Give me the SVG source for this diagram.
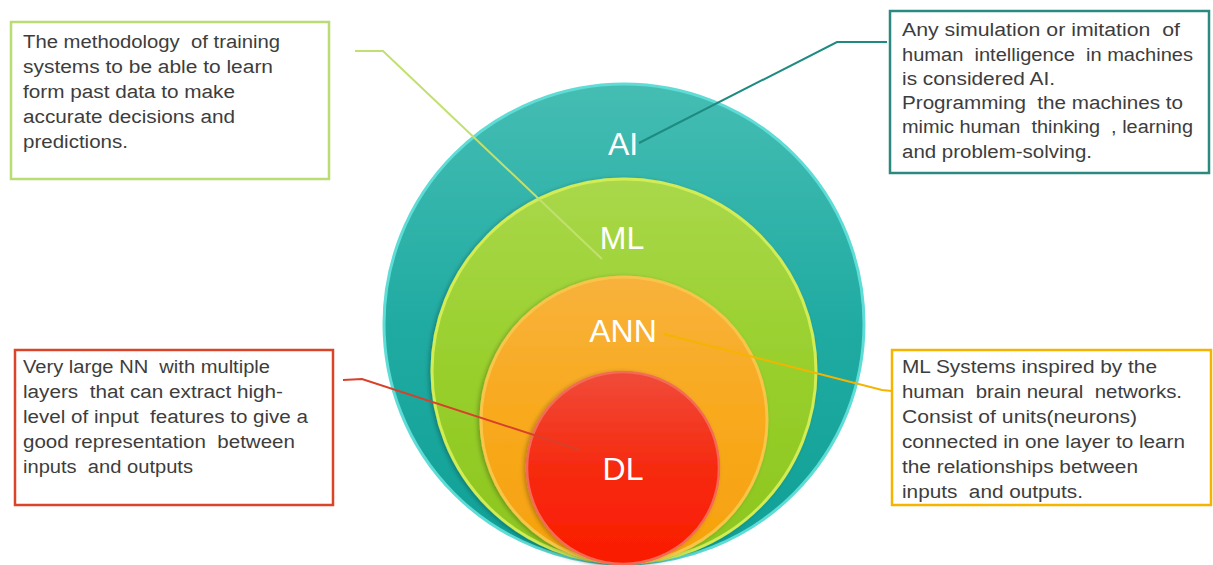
<svg xmlns="http://www.w3.org/2000/svg" width="1213" height="565" viewBox="0 0 1213 565">
  <defs>
    <linearGradient id="gAI" x1="0" y1="0" x2="0" y2="1">
      <stop offset="0" stop-color="#45bdb3"/>
      <stop offset="0.5" stop-color="#20aba2"/>
      <stop offset="1" stop-color="#0fa096"/>
    </linearGradient>
    <linearGradient id="gML" x1="0" y1="0" x2="0" y2="1">
      <stop offset="0" stop-color="#a9d84a"/>
      <stop offset="0.5" stop-color="#98cf2c"/>
      <stop offset="1" stop-color="#8cc51e"/>
    </linearGradient>
    <linearGradient id="gANN" x1="0" y1="0" x2="0" y2="1">
      <stop offset="0" stop-color="#f8b23c"/>
      <stop offset="0.5" stop-color="#f8a91c"/>
      <stop offset="1" stop-color="#f6a10c"/>
    </linearGradient>
    <linearGradient id="gDL" x1="0" y1="0" x2="0" y2="1">
      <stop offset="0" stop-color="#f04b3a"/>
      <stop offset="0.5" stop-color="#f62a10"/>
      <stop offset="1" stop-color="#fb1c00"/>
    </linearGradient>
    <filter id="soft" x="-10%" y="-10%" width="120%" height="120%">
      <feGaussianBlur in="SourceAlpha" stdDeviation="2"/>
      <feOffset dx="-2" dy="1" result="b"/>
      <feFlood flood-color="#000" flood-opacity="0.25"/>
      <feComposite in2="b" operator="in"/>
      <feMerge><feMergeNode/><feMergeNode in="SourceGraphic"/></feMerge>
    </filter>
  </defs>
  <style>
    .box { fill: #ffffff; stroke-width: 2.5; }
    .txt { font-family: "Liberation Sans", Arial, sans-serif; font-size: 18px; fill: #3d3d3d; white-space: pre; }
    .lbl { font-family: "Liberation Sans", Arial, sans-serif; font-size: 32px; fill: #ffffff; text-anchor: middle; }
    .con { fill: none; stroke-width: 2; }
  </style>
  <rect width="1213" height="565" fill="#ffffff"/>

  <!-- nested circles, all tangent at the bottom -->
  <g id="ai">
    <circle cx="624" cy="324" r="240" fill="url(#gAI)" stroke="#5fdcd6" stroke-width="3"/>
    <text class="lbl" x="623" y="155">AI</text>
  </g>
  <g id="ml">
    <circle cx="624" cy="371" r="192" fill="url(#gML)" stroke="#d2ec55" stroke-width="3" filter="url(#soft)"/>
    <text class="lbl" x="622" y="249">ML</text>
  </g>
  <g id="ann">
    <circle cx="624" cy="420" r="143" fill="url(#gANN)" stroke="#f7c64a" stroke-width="3" filter="url(#soft)"/>
    <text class="lbl" x="623" y="342">ANN</text>
  </g>
  <g id="dl">
    <circle cx="623" cy="468" r="96" fill="url(#gDL)" stroke="#f36a55" stroke-width="2.5" filter="url(#soft)"/>
    <text class="lbl" x="623" y="480">DL</text>
  </g>

  <!-- leader lines from the labels to their descriptions -->
  <g id="connectors">
    <polyline class="con" stroke="#c2e070" points="355,51 383,51 602,259"/>
    <polyline class="con" stroke="#1e8a80" points="887,42 837,42 639,143"/>
    <polyline class="con" stroke="#f4b400" points="664,334 882,390 892,391"/>
    <polyline class="con" stroke="#d8402a" points="343,380 362,379 580,450"/>
  </g>

  <g id="box-ml">
    <rect class="box" x="11" y="22" width="318" height="157" stroke="#b9dc73"/>
    <text class="txt" x="23" y="48" textLength="257" lengthAdjust="spacingAndGlyphs">The methodology  of training</text>
    <text class="txt" x="23" y="73" textLength="250" lengthAdjust="spacingAndGlyphs">systems to be able to learn</text>
    <text class="txt" x="23" y="98" textLength="212" lengthAdjust="spacingAndGlyphs">form past data to make</text>
    <text class="txt" x="23" y="123" textLength="212" lengthAdjust="spacingAndGlyphs">accurate decisions and</text>
    <text class="txt" x="23" y="148" textLength="105" lengthAdjust="spacingAndGlyphs">predictions.</text>
  </g>

  <g id="box-ai">
    <rect class="box" x="890" y="11" width="319" height="162" stroke="#2b8a7f"/>
    <text class="txt" x="902" y="36" textLength="278" lengthAdjust="spacingAndGlyphs">Any simulation or imitation  of</text>
    <text class="txt" x="902" y="61" textLength="291" lengthAdjust="spacingAndGlyphs">human  intelligence  in machines</text>
    <text class="txt" x="902" y="85" textLength="153" lengthAdjust="spacingAndGlyphs">is considered AI.</text>
    <text class="txt" x="902" y="109" textLength="281" lengthAdjust="spacingAndGlyphs">Programming  the machines to</text>
    <text class="txt" x="902" y="133" textLength="291" lengthAdjust="spacingAndGlyphs">mimic human  thinking  , learning</text>
    <text class="txt" x="902" y="158" textLength="190" lengthAdjust="spacingAndGlyphs">and problem-solving.</text>
  </g>

  <g id="box-dl">
    <rect class="box" x="15" y="350" width="318" height="155" stroke="#d9442b"/>
    <text class="txt" x="23" y="373" textLength="247" lengthAdjust="spacingAndGlyphs">Very large NN  with multiple</text>
    <text class="txt" x="23" y="398" textLength="260" lengthAdjust="spacingAndGlyphs">layers  that can extract high-</text>
    <text class="txt" x="23" y="423" textLength="285" lengthAdjust="spacingAndGlyphs">level of input  features to give a</text>
    <text class="txt" x="23" y="448" textLength="272" lengthAdjust="spacingAndGlyphs">good representation  between</text>
    <text class="txt" x="23" y="473" textLength="170" lengthAdjust="spacingAndGlyphs">inputs  and outputs</text>
  </g>

  <g id="box-ann">
    <rect class="box" x="892" y="350" width="319" height="155" stroke="#f4b400"/>
    <text class="txt" x="902" y="373" textLength="255" lengthAdjust="spacingAndGlyphs">ML Systems inspired by the</text>
    <text class="txt" x="902" y="398" textLength="280" lengthAdjust="spacingAndGlyphs">human  brain neural  networks.</text>
    <text class="txt" x="902" y="423" textLength="235" lengthAdjust="spacingAndGlyphs">Consist of units(neurons)</text>
    <text class="txt" x="902" y="448" textLength="283" lengthAdjust="spacingAndGlyphs">connected in one layer to learn</text>
    <text class="txt" x="902" y="473" textLength="236" lengthAdjust="spacingAndGlyphs">the relationships between</text>
    <text class="txt" x="902" y="498" textLength="181" lengthAdjust="spacingAndGlyphs">inputs  and outputs.</text>
  </g>
</svg>
